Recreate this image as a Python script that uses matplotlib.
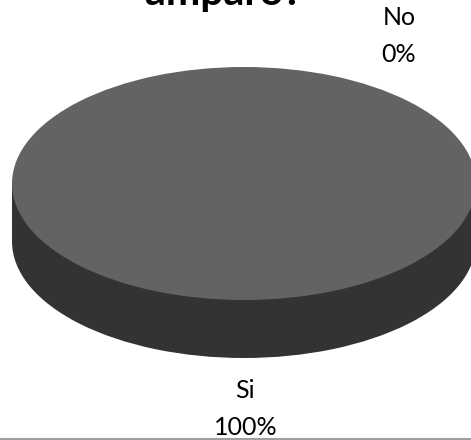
import matplotlib
matplotlib.use("Agg")
import matplotlib.pyplot as plt
from matplotlib.patches import Rectangle

categories = ["Si", "No"]
values = [100, 0]
percent_labels = ["100%", "0%"]
title_text = "amparo?"

W, H = 471, 440
CX, CY = 244.0, 183.5
RX, RY = 232.0, 116.5
DEPTH = 58.0

plt.rcParams["font.family"] = ["Lato", "DejaVu Sans"]
fig = plt.figure(figsize=(W / 100, H / 100), dpi=100, facecolor="white")
ax = fig.add_axes([0, 0, 1, 1])

# Rim of the disc, then the top face, both as pies squashed by the axes limits
d = DEPTH / RY
ax.pie(values, colors=["#333333", "#333333"], center=(0, -d), startangle=90,
       counterclock=False, wedgeprops={"linewidth": 0})
ax.add_patch(Rectangle((-1, -d), 2, d, facecolor="#333333", linewidth=0))
ax.pie(values, colors=["#636363", "#636363"], center=(0, 0), startangle=90,
       counterclock=False, wedgeprops={"linewidth": 0})

ax.set_aspect("auto")
ax.set_xlim(-CX / RX, (W - CX) / RX)
ax.set_ylim(-(H - CY) / RY, CY / RY)
ax.axis("off")


def label(px, baseline, text, **kw):
    fig.text(px / W, 1 - baseline / H, text, ha="center", va="baseline", color="black", **kw)


label(224, 5.5, title_text, fontsize=29.5, fontweight="bold")
label(399, 25, categories[1], fontsize=18)
label(399, 62, percent_labels[1], fontsize=18)
label(245, 398, categories[0], fontsize=18)
label(246, 435, percent_labels[0], fontsize=18)

# Thin grey rule along the lower edge
fig.add_artist(plt.Line2D([0, 1], [1 - 438.5 / H] * 2, color="#a0a0a0", linewidth=1.5))

fig.savefig("out.png", dpi=100, facecolor="white")
